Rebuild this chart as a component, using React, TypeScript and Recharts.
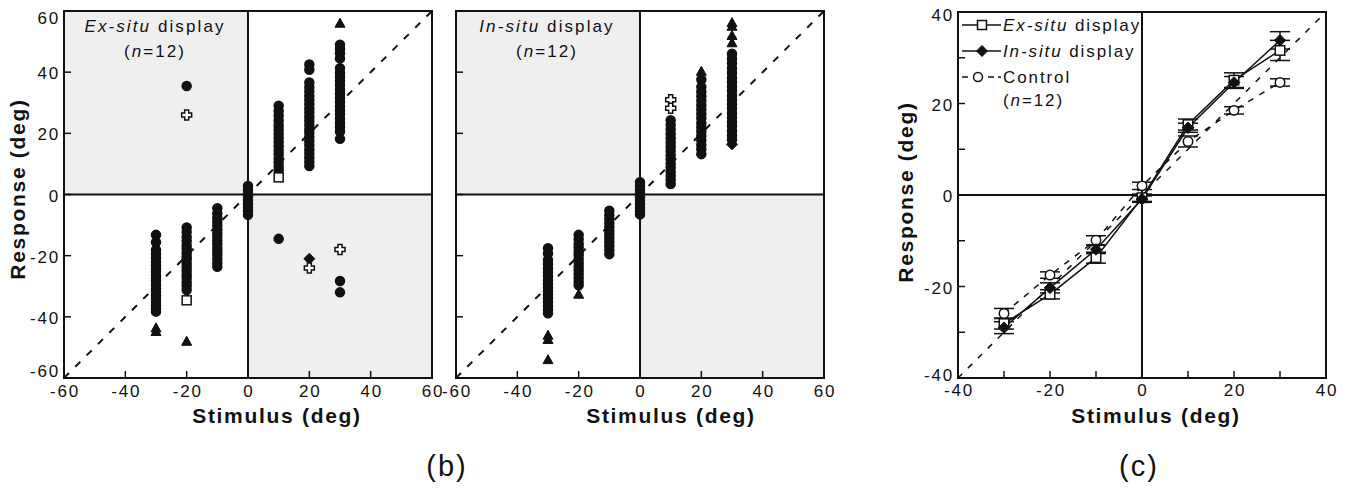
import React from 'react'
import {
  ScatterChart,
  Scatter,
  ComposedChart,
  Line,
  XAxis,
  YAxis,
  ReferenceArea,
  ReferenceLine,
  ErrorBar,
} from 'recharts'

const FONT = '"Liberation Sans", Arial, Helvetica, sans-serif'
const INK = '#111'
const SHADE = '#efefef'

// stimulus positions (deg), shared by all panels
const stimuli = [-30, -20, -10, 0, 10, 20, 30]
const scatterTicks = [-60, -40, -20, 0, 20, 40, 60]
const meanTicks = [-40, -30, -20, -10, 0, 10, 20, 30, 40]

// (b) left: Ex-situ display — individual responses (deg), one list per stimulus
const exCircles = [
  [-13.2, -15.6, -18.1, -19.4, -20.8, -22, -23.1, -24.3, -25.2, -26.4, -27.5, -28.3, -29.6, -30.8, -31.7, -33, -34.1, -35.2, -36.4, -37.5, -38.3],
  [-10.8, -12.3, -13.9, -15.2, -16.7, -17.8, -19.1, -20.4, -21.3, -22.6, -23.8, -24.9, -26.2, -27.4, -28.7, -29.8, -31.2, 35.5],
  [-4.5, -6.2, -7.6, -8.9, -10.1, -11.4, -12.6, -13.7, -15, -16.2, -17.5, -18.6, -19.8, -21.2, -22.4, -23.6],
  [2.8, 1.6, 0.4, -0.7, -1.9, -3.1, -4.2, -5.4, -6.6],
  [29, 27.3, 25.8, 24.1, 22.6, 21.2, 19.9, 18.5, 17.1, 15.8, 14.4, 13.2, 11.8, 10.5, 9.1, 7.9, -14.5],
  [42.5, 40.8, 36.6, 35.1, 33.7, 32.2, 30.9, 29.5, 28.1, 26.8, 25.4, 24.1, 22.7, 21.3, 20.2, 18.8, 17.4, 16.1, 14.7, 13.4, 12, 10.6, 9.3],
  [49, 47.6, 46.2, 44.5, 41.3, 39.8, 38.4, 37.1, 35.7, 34.3, 33, 31.6, 30.3, 28.8, 27.5, 26.2, 24.8, 23.4, 22.1, 20.6, 18.2, -28.3, -32],
]
const exTriangles = [[-43.6, -44.8], [-48], [], [], [], [], [56]]
const exSquares = [[], [-34.6], [], [], [5.6], [], []]
const exCrosses = [[], [26], [], [], [], [-24], [-18]]
const exDiamonds = [[], [], [], [], [], [-21], []]

// (b) right: In-situ display
const inCircles = [
  [-17.6, -19.3, -21.4, -22.8, -24.2, -25.5, -26.7, -28, -29.1, -30.4, -31.6, -32.7, -34, -35.2, -36.5, -37.7, -38.8],
  [-13.2, -14.6, -16.1, -17.3, -18.6, -19.8, -21.1, -22.3, -23.6, -24.8, -26, -27.3, -28.5, -29.7],
  [-5.3, -6.8, -8.1, -9.4, -10.6, -11.9, -13.1, -14.4, -15.7, -16.9, -18.2, -19.5],
  [4, 2.9, 1.7, 0.5, -0.8, -2, -3.2, -4.4, -5.6, -6.5],
  [24.3, 22.8, 21.3, 19.9, 18.4, 17, 15.6, 14.2, 12.8, 11.5, 10.1, 8.8, 7.4, 6.1, 4.8, 3.4],
  [37.6, 35.2, 33.6, 32.1, 30.7, 29.2, 27.8, 26.3, 24.9, 23.4, 22, 20.6, 19.1, 17.7, 16.2, 14.8, 13.2],
  [46, 44.4, 42.9, 41.3, 39.8, 38.2, 36.8, 35.3, 33.9, 32.4, 31, 29.5, 28.1, 26.6, 25.2, 23.7, 22.3, 20.8, 19.4, 18],
]
const inTriangles = [[-46, -47.4, -54], [-32.6], [], [], [], [40.3], [56.2, 55, 52, 49.6]]
const inSquares = [[], [], [], [], [], [], []]
const inCrosses = [[], [], [], [], [31, 28.2], [], []]
const inDiamonds = [[], [], [], [], [], [], [16.4]]

// (c) group means and standard errors
const exSituMean = [-28.1, -21.7, -13.7, -0.6, 15.4, 25.1, 31.6]
const exSituErr = [1.2, 1.0, 1.2, 0.8, 1.2, 1.6, 2.2]
const inSituMean = [-29, -20.3, -11.9, -0.9, 14.7, 24.6, 33.8]
const inSituErr = [1.3, 1.1, 0.9, 0.7, 1.0, 1.3, 1.9]
const controlMean = [-25.9, -17.5, -9.9, 2, 11.7, 18.5, 24.6]
const controlErr = [1.1, 0.7, 1.0, 0.8, 1.2, 0.8, 0.8]

type Kind = 'circle' | 'triangle' | 'square' | 'cross' | 'diamond'

const Marker = ({ cx, cy, kind, open, s = 1 }: { cx: number; cy: number; kind: Kind; open?: boolean; s?: number }) => {
  const fill = open ? '#fff' : INK
  if (cx == null || cy == null) return null
  switch (kind) {
    case 'triangle':
      return <path d={`M${cx},${cy - 5 * s}L${cx + 5 * s},${cy + 4 * s}L${cx - 5 * s},${cy + 4 * s}Z`} fill={fill} stroke={INK} strokeWidth={1} />
    case 'square':
      return <rect x={cx - 4.5 * s} y={cy - 4.5 * s} width={9 * s} height={9 * s} fill={fill} stroke={INK} strokeWidth={1.5} />
    case 'diamond':
      return <path d={`M${cx},${cy - 5.5 * s}L${cx + 5.5 * s},${cy}L${cx},${cy + 5.5 * s}L${cx - 5.5 * s},${cy}Z`} fill={fill} stroke={INK} strokeWidth={1} />
    case 'cross': {
      const a = 2 * s
      const b = 5 * s
      return (
        <path
          d={`M${cx - a},${cy - b}H${cx + a}V${cy - a}H${cx + b}V${cy + a}H${cx + a}V${cy + b}H${cx - a}V${cy + a}H${cx - b}V${cy - a}H${cx - a}Z`}
          fill={fill}
          stroke={INK}
          strokeWidth={1.5}
        />
      )
    }
    default:
      return <circle cx={cx} cy={cy} r={4.5 * s} fill={fill} stroke={INK} strokeWidth={1.5} />
  }
}

const toPoints = (cols: number[][]) =>
  cols.flatMap((vals, i) => vals.map(v => ({ x: stimuli[i], y: v })))

const textStyle = { letterSpacing: '1.8px' }

const xTick = (lo: number, hi: number, labelStep: number, dy: number) => (props: any) => {
  const { x, y, payload } = props
  const v = payload.value
  const edge = v === lo || v === hi
  return (
    <g>
      {!edge && <line x1={x} x2={x} y1={y} y2={y - 7} stroke={INK} strokeWidth={1.5} />}
      {v % labelStep === 0 && (
        <text x={x + 1} y={y + dy} textAnchor="middle" fontSize={17} fontFamily={FONT} fill={INK} style={textStyle}>
          {v}
        </text>
      )}
    </g>
  )
}

const yTick = (lo: number, hi: number, labelStep: number, showLabels: boolean, topDy: number, bottomDy: number) => (props: any) => {
  const { x, y, payload } = props
  const v = payload.value
  const edge = v === lo || v === hi
  const dy = v === hi ? topDy : v === lo ? bottomDy : 7
  return (
    <g>
      {!edge && <line x1={x} x2={x + 7} y1={y} y2={y} stroke={INK} strokeWidth={1.5} />}
      {showLabels && v % labelStep === 0 && (
        <text x={x - 4} y={y + dy} textAnchor="end" fontSize={17} fontFamily={FONT} fill={INK} style={textStyle}>
          {v}
        </text>
      )}
    </g>
  )
}

interface Group {
  cols: number[][]
  kind: Kind
  open?: boolean
}

const ScatterPanel = ({ left, groups, yLabels }: { left: number; groups: Group[]; yLabels: boolean }) => (
  <div style={{ position: 'absolute', left, top: 0 }}>
    <ScatterChart width={460} height={430} margin={{ top: 11, right: 28, bottom: 22, left: 8 }}>
      <XAxis
        type="number"
        dataKey="x"
        domain={[-60, 60]}
        ticks={scatterTicks}
        interval={0}
        axisLine={false}
        tickLine={false}
        tickSize={0}
        tickMargin={0}
        height={30}
        allowDataOverflow
        tick={xTick(-60, 60, 20, 19)}
      />
      <YAxis
        type="number"
        dataKey="y"
        domain={[-60, 60]}
        ticks={scatterTicks}
        interval={0}
        axisLine={false}
        tickLine={false}
        tickSize={0}
        tickMargin={0}
        width={56}
        allowDataOverflow
        tick={yTick(-60, 60, 20, yLabels, 13, -1)}
      />
      <ReferenceArea x1={-60} x2={0} y1={0} y2={60} fill={SHADE} fillOpacity={1} stroke="none" />
      <ReferenceArea x1={0} x2={60} y1={-60} y2={0} fill={SHADE} fillOpacity={1} stroke="none" />
      <ReferenceLine x={0} stroke={INK} strokeWidth={2} />
      <ReferenceLine y={0} stroke={INK} strokeWidth={2} />
      <ReferenceLine
        segment={[{ x: -60, y: -60 }, { x: 60, y: 60 }]}
        stroke={INK}
        strokeWidth={2}
        strokeDasharray="7 9"
      />
      {groups.map((g, gi) => (
        <Scatter
          key={gi}
          data={toPoints(g.cols)}
          isAnimationActive={false}
          shape={(p: any) => <Marker cx={p.cx} cy={p.cy} kind={g.kind} open={g.open} />}
        />
      ))}
      <ReferenceArea x1={-60} x2={60} y1={-60} y2={60} fill="none" fillOpacity={0} stroke={INK} strokeWidth={2} />
    </ScatterChart>
  </div>
)

const exGroups: Group[] = [
  { cols: exCircles, kind: 'circle' },
  { cols: exTriangles, kind: 'triangle' },
  { cols: exDiamonds, kind: 'diamond' },
  { cols: exSquares, kind: 'square', open: true },
  { cols: exCrosses, kind: 'cross', open: true },
]

const inGroups: Group[] = [
  { cols: inCircles, kind: 'circle' },
  { cols: inTriangles, kind: 'triangle' },
  { cols: inDiamonds, kind: 'diamond' },
  { cols: inSquares, kind: 'square', open: true },
  { cols: inCrosses, kind: 'cross', open: true },
]

const meanRows = stimuli.map((x, i) => ({
  x,
  exSitu: exSituMean[i],
  exErr: exSituErr[i],
  inSitu: inSituMean[i],
  inErr: inSituErr[i],
  control: controlMean[i],
  ctlErr: controlErr[i],
}))

const dotOf = (kind: Kind, open: boolean) => (p: any) => (
  <Marker key={`${kind}-${p.index}`} cx={p.cx} cy={p.cy} kind={kind} open={open} s={1.05} />
)

const MeanPanel = () => (
  <div style={{ position: 'absolute', left: 894, top: 0 }}>
    <ComposedChart width={464} height={430} data={meanRows} margin={{ top: 12, right: 32, bottom: 22, left: 8 }}>
      <XAxis
        type="number"
        dataKey="x"
        domain={[-40, 40]}
        ticks={meanTicks}
        interval={0}
        axisLine={false}
        tickLine={false}
        tickSize={0}
        tickMargin={0}
        height={30}
        allowDataOverflow
        tick={xTick(-40, 40, 20, 18)}
      />
      <YAxis
        type="number"
        domain={[-40, 40]}
        ticks={meanTicks}
        interval={0}
        axisLine={false}
        tickLine={false}
        tickSize={0}
        tickMargin={0}
        width={56}
        allowDataOverflow
        tick={yTick(-40, 40, 20, true, 9, 3)}
      />
      <ReferenceLine x={0} stroke={INK} strokeWidth={2} />
      <ReferenceLine y={0} stroke={INK} strokeWidth={2} />
      <ReferenceLine
        segment={[{ x: -40, y: -40 }, { x: 40, y: 40 }]}
        stroke={INK}
        strokeWidth={1.5}
        strokeDasharray="6 8"
      />
      <Line
        dataKey="control"
        stroke={INK}
        strokeWidth={1.5}
        strokeDasharray="6 7"
        dot={dotOf('circle', true)}
        isAnimationActive={false}
      >
        <ErrorBar dataKey="ctlErr" width={10} stroke={INK} strokeWidth={1.5} direction="y" />
      </Line>
      <Line dataKey="exSitu" stroke={INK} strokeWidth={1.5} dot={dotOf('square', true)} isAnimationActive={false}>
        <ErrorBar dataKey="exErr" width={10} stroke={INK} strokeWidth={1.5} direction="y" />
      </Line>
      <Line dataKey="inSitu" stroke={INK} strokeWidth={1.5} dot={dotOf('diamond', false)} isAnimationActive={false}>
        <ErrorBar dataKey="inErr" width={10} stroke={INK} strokeWidth={1.5} direction="y" />
      </Line>
      <ReferenceArea x1={-40} x2={40} y1={-40} y2={40} fill="none" fillOpacity={0} stroke={INK} strokeWidth={2} />
    </ComposedChart>
  </div>
)

const Title = ({ cx, lead }: { cx: number; lead: string }) => (
  <g fontSize={17} fontFamily={FONT} fill={INK} style={{ letterSpacing: '2.1px' }}>
    <text x={cx} y={32} textAnchor="middle">
      <tspan fontStyle="italic">{lead}</tspan> display
    </text>
    <text x={cx} y={57} textAnchor="middle">
      (<tspan fontStyle="italic">n</tspan>=12)
    </text>
  </g>
)

const AxisTitles = () => (
  <g fontFamily={FONT} fill={INK} fontWeight="bold" fontSize={21} style={{ letterSpacing: '1.7px' }}>
    <text x={277} y={423} textAnchor="middle">Stimulus (deg)</text>
    <text x={671} y={423} textAnchor="middle">Stimulus (deg)</text>
    <text x={1156} y={423} textAnchor="middle">Stimulus (deg)</text>
    <text x={0} y={0} textAnchor="middle" transform="translate(25,189) rotate(-90)">Response (deg)</text>
    <text x={0} y={0} textAnchor="middle" transform="translate(913,192) rotate(-90)">Response (deg)</text>
  </g>
)

const MeanLegend = () => (
  <g fontFamily={FONT} fill={INK} fontSize={17} style={{ letterSpacing: '1.9px' }}>
    <line x1={962} x2={1001} y1={25} y2={25} stroke={INK} strokeWidth={1.5} />
    <Marker cx={982} cy={25} kind="square" open />
    <text x={1003} y={31}><tspan fontStyle="italic">Ex-situ</tspan> display</text>
    <line x1={962} x2={1001} y1={51} y2={51} stroke={INK} strokeWidth={1.5} />
    <Marker cx={982} cy={51} kind="diamond" />
    <text x={1003} y={57}><tspan fontStyle="italic">In-situ</tspan> display</text>
    <line x1={962} x2={968} y1={77} y2={77} stroke={INK} strokeWidth={1.5} />
    <line x1={988} x2={1001} y1={77} y2={77} stroke={INK} strokeWidth={1.5} strokeDasharray="6 4" />
    <Marker cx={978} cy={77} kind="circle" open />
    <text x={1003} y={83}>Control</text>
    <text x={1003} y={106}>(<tspan fontStyle="italic">n</tspan>=12)</text>
  </g>
)

export default function App() {
  return (
    <div style={{ position: 'absolute', left: 0, top: 0, width: 1358, height: 492, background: '#fff', overflow: 'hidden' }}>
      <ScatterPanel left={0} groups={exGroups} yLabels />
      <ScatterPanel left={392} groups={inGroups} yLabels={false} />
      <MeanPanel />
      <svg width={1358} height={492} style={{ position: 'absolute', left: 0, top: 0, pointerEvents: 'none' }}>
        <Title cx={155} lead="Ex-situ" />
        <Title cx={547} lead="In-situ" />
        <AxisTitles />
        <MeanLegend />
        <g fontFamily={FONT} fill={INK} fontSize={29} style={{ letterSpacing: '2px' }}>
          <text x={447} y={476} textAnchor="middle">(b)</text>
          <text x={1139} y={476} textAnchor="middle">(c)</text>
        </g>
      </svg>
    </div>
  )
}
